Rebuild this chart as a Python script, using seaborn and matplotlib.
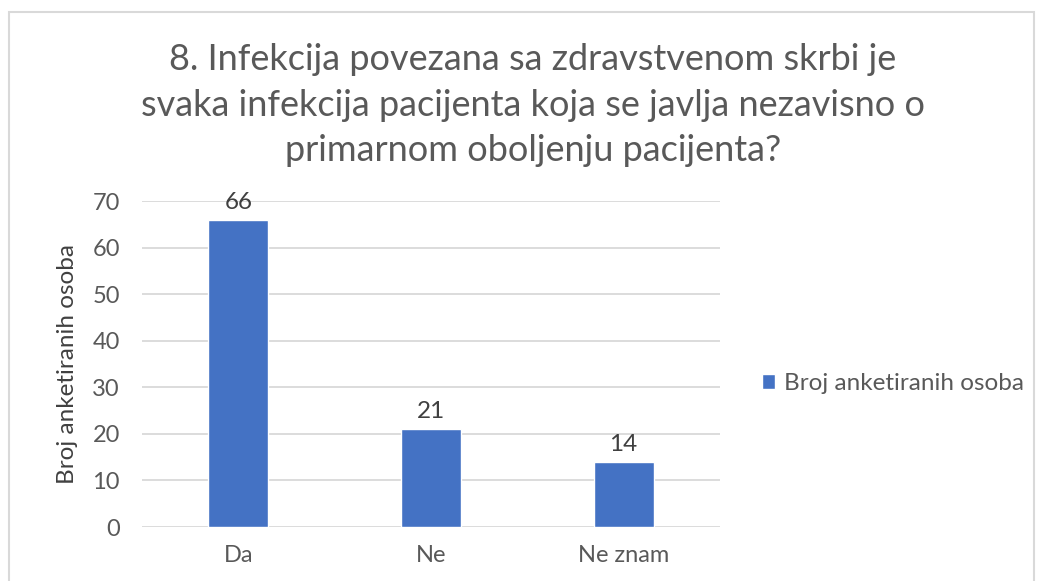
import matplotlib
matplotlib.use("Agg")
import matplotlib.pyplot as plt
import seaborn as sns
import pandas as pd
from matplotlib.patches import Rectangle

categories = ["Da", "Ne", "Ne znam"]
counts = [66, 21, 14]
series_name = "Broj anketiranih osoba"
title = ("8. Infekcija povezana sa zdravstvenom skrbi je\n"
         "svaka infekcija pacijenta koja se javlja nezavisno o\n"
         "primarnom oboljenju pacijenta?")
y_ticks = [0, 10, 20, 30, 40, 50, 60, 70]

df = pd.DataFrame({"odgovor": categories, "broj": counts})

sns.set_style("white")
plt.rcParams["font.family"] = ["Lato", "DejaVu Sans"]

text_col = "#595959"
bar_col = "#4472C4"
grid_col = "#D9D9D9"

fig = plt.figure(figsize=(10.44, 5.81), dpi=100)
fig.patches.append(Rectangle((9 / 1044, -0.05), 1025 / 1044, 1.05 - 12 / 581,
                             transform=fig.transFigure, fill=False,
                             edgecolor="#D9D9D9", linewidth=1.5))

ax = fig.add_axes([142 / 1044, 1 - 527 / 581, 578 / 1044, 326 / 581])
sns.barplot(data=df, x="odgovor", y="broj", color=bar_col, width=0.31,
            saturation=1, ax=ax, label=series_name, zorder=3)

ax.set_ylim(0, 70)
ax.set_yticks(y_ticks)
ax.yaxis.grid(True, color=grid_col, linewidth=1.3, zorder=0)
for s in ax.spines.values():
    s.set_visible(False)
ax.tick_params(axis="both", length=0, labelsize=17, colors=text_col)
ax.tick_params(axis="x", pad=13)
ax.tick_params(axis="y", pad=16)
ax.set_xlabel("")
ax.set_ylabel(series_name, fontsize=17.5, color="#404040", labelpad=10)

for c in ax.containers:
    ax.bar_label(c, padding=5, fontsize=17.5, color="#404040")

fig.text(533 / 1044, 1 - 105 / 581, title, ha="center", va="center",
         fontsize=26, color="#595959", linespacing=1.45)

ax.legend(loc="center left", bbox_to_anchor=(1.035, 0.44), frameon=False,
          fontsize=17.5, handlelength=0.55, handleheight=0.55, handletextpad=0.35,
          labelcolor=text_col)

fig.savefig("out.png", dpi=100)
